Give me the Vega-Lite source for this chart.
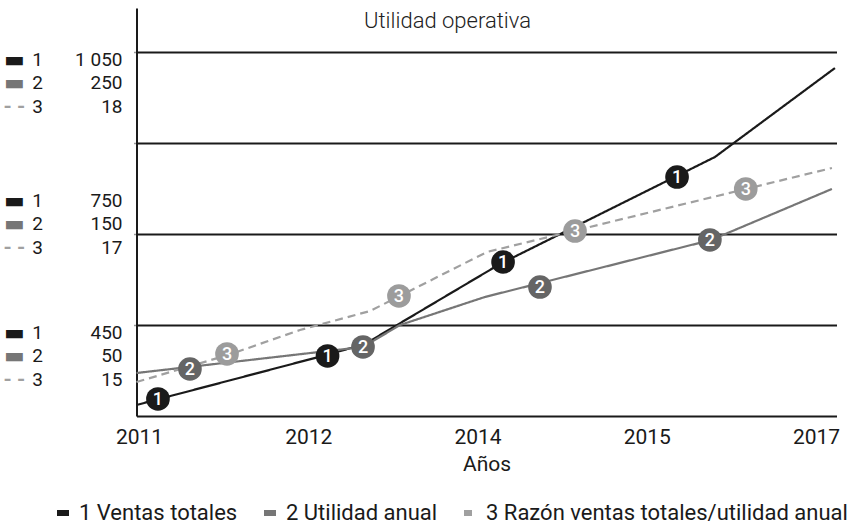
{
  "$schema": "https://vega.github.io/schema/vega-lite/v6.json",
  "width": 700,
  "height": 408,
  "autosize": {"type": "none"},
  "padding": {"left": 136.5, "top": 8, "right": 23.5, "bottom": 111},
  "background": "white",
  "config": {"font": "Roboto", "view": {"stroke": null}},
  "title": {"text": "Utilidad operativa", "anchor": "middle", "dx": -39, "offset": -25, "fontSize": 22, "fontWeight": 300, "color": "#222222"},
  "datasets": {
    "lineas": [
      {"serie": "1 Ventas totales", "anio": 2010.985, "nivel": 0.121},
      {"serie": "1 Ventas totales", "anio": 2012.257, "nivel": 0.681},
      {"serie": "1 Ventas totales", "anio": 2012.671, "nivel": 0.791},
      {"serie": "1 Ventas totales", "anio": 2014.133, "nivel": 1.669},
      {"serie": "1 Ventas totales", "anio": 2015.806, "nivel": 2.844},
      {"serie": "1 Ventas totales", "anio": 2017.224, "nivel": 3.821},
      {"serie": "2 Utilidad anual", "anio": 2010.985, "nivel": 0.472},
      {"serie": "2 Utilidad anual", "anio": 2012.647, "nivel": 0.758},
      {"serie": "2 Utilidad anual", "anio": 2013.084, "nivel": 0.999},
      {"serie": "2 Utilidad anual", "anio": 2014.044, "nivel": 1.307},
      {"serie": "2 Utilidad anual", "anio": 2015.762, "nivel": 1.933},
      {"serie": "2 Utilidad anual", "anio": 2017.188, "nivel": 2.493},
      {"serie": "3 Razón ventas totales/utilidad anual", "anio": 2010.985, "nivel": 0.373},
      {"serie": "3 Razón ventas totales/utilidad anual", "anio": 2011.526, "nivel": 0.670},
      {"serie": "3 Razón ventas totales/utilidad anual", "anio": 2011.951, "nivel": 0.944},
      {"serie": "3 Razón ventas totales/utilidad anual", "anio": 2012.730, "nivel": 1.153},
      {"serie": "3 Razón ventas totales/utilidad anual", "anio": 2014.056, "nivel": 1.801},
      {"serie": "3 Razón ventas totales/utilidad anual", "anio": 2017.188, "nivel": 2.723}
    ],
    "marcadores": [
      {"serie": "1 Ventas totales", "num": "1", "anio": 2011.112, "nivel": 0.187},
      {"serie": "1 Ventas totales", "num": "1", "anio": 2012.228, "nivel": 0.659},
      {"serie": "1 Ventas totales", "num": "1", "anio": 2014.151, "nivel": 1.691},
      {"serie": "1 Ventas totales", "num": "1", "anio": 2015.358, "nivel": 2.624},
      {"serie": "2 Utilidad anual", "num": "2", "anio": 2011.301, "nivel": 0.516},
      {"serie": "2 Utilidad anual", "num": "2", "anio": 2012.647, "nivel": 0.758},
      {"serie": "2 Utilidad anual", "num": "2", "anio": 2014.369, "nivel": 1.416},
      {"serie": "2 Utilidad anual", "num": "2", "anio": 2015.746, "nivel": 1.933},
      {"serie": "3 Razón ventas totales/utilidad anual", "num": "3", "anio": 2011.520, "nivel": 0.681},
      {"serie": "3 Razón ventas totales/utilidad anual", "num": "3", "anio": 2013.072, "nivel": 1.318},
      {"serie": "3 Razón ventas totales/utilidad anual", "num": "3", "anio": 2014.576, "nivel": 2.031},
      {"serie": "3 Razón ventas totales/utilidad anual", "num": "3", "anio": 2016.170, "nivel": 2.493}
    ],
    "escala": [
      {"serie": "1 Ventas totales", "num": "1", "nivel": 4, "cifra": "1 050"},
      {"serie": "2 Utilidad anual", "num": "2", "nivel": 4, "cifra": "250"},
      {"serie": "3 Razón ventas totales/utilidad anual", "num": "3", "nivel": 4, "cifra": "18"},
      {"serie": "1 Ventas totales", "num": "1", "nivel": 2, "cifra": "750"},
      {"serie": "2 Utilidad anual", "num": "2", "nivel": 2, "cifra": "150"},
      {"serie": "3 Razón ventas totales/utilidad anual", "num": "3", "nivel": 2, "cifra": "17"},
      {"serie": "1 Ventas totales", "num": "1", "nivel": 1, "cifra": "450"},
      {"serie": "2 Utilidad anual", "num": "2", "nivel": 1, "cifra": "50"},
      {"serie": "3 Razón ventas totales/utilidad anual", "num": "3", "nivel": 1, "cifra": "15"}
    ]
  },
  "layer": [
    {
      "data": {"name": "lineas"},
      "mark": {"type": "line", "strokeWidth": 2.2},
      "encoding": {
        "x": {
          "field": "anio", "type": "quantitative",
          "scale": {"domain": [2010.985, 2011, 2012, 2014, 2015, 2017, 2017.242], "range": [0, 2.5, 171.75, 341, 510.25, 679.5, 700], "nice": false, "zero": false},
          "axis": {"values": [2011, 2012, 2014, 2015, 2017], "format": "d", "title": "Años", "grid": false, "ticks": false, "domainWidth": 2, "domainColor": "#1a1a1a", "labelFontSize": 21, "labelColor": "#1a1a1a", "labelPadding": 10, "labelFlush": false, "titleFontSize": 21, "titleFontWeight": "normal", "titleColor": "#1a1a1a", "titlePadding": 6}
        },
        "y": {
          "field": "nivel", "type": "quantitative",
          "scale": {"domain": [0, 4.48], "nice": false, "zero": false},
          "axis": {"values": [1, 2, 3, 4], "labels": false, "title": null, "grid": true, "gridColor": "#1a1a1a", "gridWidth": 2, "gridOpacity": 1, "ticks": true, "tickSize": 3, "tickColor": "#999999", "tickWidth": 1.5, "domainWidth": 2, "domainColor": "#1a1a1a"}
        },
        "color": {
          "field": "serie", "type": "nominal",
          "scale": {"domain": ["1 Ventas totales", "2 Utilidad anual", "3 Razón ventas totales/utilidad anual"], "range": ["#1a1a1a", "#767676", "#a0a0a0"]},
          "legend": {"orient": "none", "legendX": -84.5, "legendY": 494, "direction": "horizontal", "title": null, "symbolType": "stroke", "symbolStrokeWidth": 6, "symbolSize": 144, "labelFontSize": 22, "labelColor": "#1a1a1a", "labelOffset": 5, "columnPadding": 14, "labelLimit": 600}
        },
        "strokeDash": {
          "field": "serie", "type": "nominal",
          "scale": {"domain": ["1 Ventas totales", "2 Utilidad anual", "3 Razón ventas totales/utilidad anual"], "range": [[1, 0], [1, 0], [8, 5]]},
          "legend": {"orient": "none", "legendX": -84.5, "legendY": 494, "direction": "horizontal", "title": null, "symbolType": "stroke", "symbolStrokeWidth": 6, "symbolSize": 144, "labelFontSize": 22, "labelColor": "#1a1a1a", "labelOffset": 5, "columnPadding": 14, "labelLimit": 600}
        }
      }
    },
    {
      "data": {"name": "marcadores"},
      "mark": {"type": "point", "filled": true, "shape": "circle", "size": 560, "opacity": 1, "strokeWidth": 0},
      "encoding": {
        "x": {"field": "anio", "type": "quantitative"},
        "y": {"field": "nivel", "type": "quantitative"},
        "fill": {"field": "num", "type": "nominal", "scale": {"domain": ["1", "2", "3"], "range": ["#1a1a1a", "#656565", "#9c9c9c"]}, "legend": null}
      }
    },
    {
      "data": {"name": "marcadores"},
      "mark": {"type": "text", "color": "white", "fontSize": 18, "fontWeight": 500, "align": "center", "baseline": "middle", "dy": 1},
      "encoding": {
        "x": {"field": "anio", "type": "quantitative"},
        "y": {"field": "nivel", "type": "quantitative"},
        "text": {"field": "num"}
      }
    },
    {
      "data": {"name": "escala"},
      "mark": {"type": "text", "align": "right", "baseline": "middle", "fontSize": 19, "color": "#1a1a1a", "dx": -14, "dy": {"expr": "(datum.nivel == 2 ? -33 : 8) + (toNumber(datum.num) - 1) * 23.5"}},
      "encoding": {
        "x": {"datum": 2010.985, "type": "quantitative"},
        "y": {"field": "nivel", "type": "quantitative"},
        "text": {"field": "cifra"}
      }
    },
    {
      "data": {"name": "escala"},
      "mark": {"type": "text", "align": "center", "baseline": "middle", "fontSize": 19, "color": "#1a1a1a", "dx": -99, "dy": {"expr": "(datum.nivel == 2 ? -33 : 8) + (toNumber(datum.num) - 1) * 23.5"}},
      "encoding": {
        "x": {"datum": 2010.985, "type": "quantitative"},
        "y": {"field": "nivel", "type": "quantitative"},
        "text": {"field": "num"}
      }
    },
    {
      "data": {"name": "escala"},
      "transform": [{"filter": "datum.num != '3'"}],
      "mark": {"type": "text", "text": "▬", "font": "DejaVu Sans", "align": "center", "baseline": "middle", "fontSize": 22, "dx": -122, "dy": {"expr": "(datum.nivel == 2 ? -33 : 8) + (toNumber(datum.num) - 1) * 23.5"}},
      "encoding": {
        "x": {"datum": 2010.985, "type": "quantitative"},
        "y": {"field": "nivel", "type": "quantitative"},
        "color": {"field": "serie", "type": "nominal"}
      }
    },
    {
      "data": {"name": "escala"},
      "transform": [{"filter": "datum.num == '3'"}],
      "mark": {"type": "text", "text": "- -", "align": "center", "baseline": "middle", "fontSize": 21, "fontWeight": "bold", "dx": -122, "dy": {"expr": "(datum.nivel == 2 ? -33 : 8) + (toNumber(datum.num) - 1) * 23.5"}},
      "encoding": {
        "x": {"datum": 2010.985, "type": "quantitative"},
        "y": {"field": "nivel", "type": "quantitative"},
        "color": {"field": "serie", "type": "nominal"}
      }
    }
  ]
}
